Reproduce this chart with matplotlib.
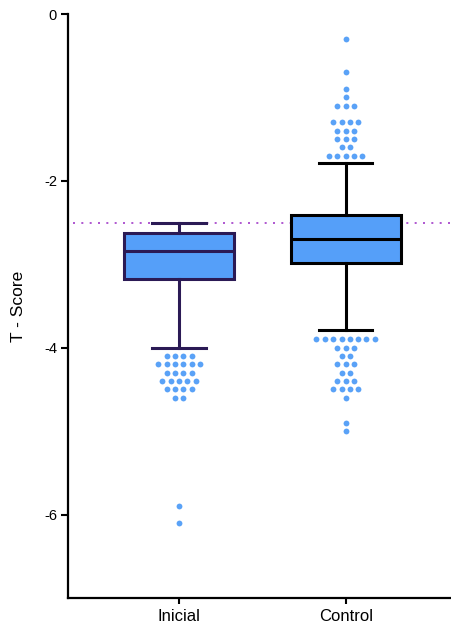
import matplotlib
matplotlib.use("Agg")
import matplotlib.pyplot as plt
from collections import Counter

categories = ["Inicial", "Control"]
whisker_low = [-4.0, -3.79]
q1 = [-3.18, -2.99]
median = [-2.84, -2.70]
q3 = [-2.62, -2.41]
whisker_high = [-2.50, -1.79]

outliers_inicial = ([-4.1] * 4 + [-4.2] * 6 + [-4.3] * 4 + [-4.4] * 5 +
                    [-4.5] * 4 + [-4.6] * 2 + [-5.9, -6.1])
outliers_control = ([-0.3, -0.7, -0.9, -1.0] + [-1.1] * 3 + [-1.3] * 4 +
                    [-1.4] * 3 + [-1.5] * 3 + [-1.6] * 2 + [-1.7] * 5 +
                    [-3.9] * 8 + [-4.0] * 3 + [-4.1] * 2 + [-4.2] * 3 +
                    [-4.3] * 2 + [-4.4] * 3 + [-4.5] * 4 + [-4.6] +
                    [-4.9, -5.0])
outliers = [outliers_inicial, outliers_control]
threshold = -2.5

edge_colors = ["#2b1a55", "#000000"]
fill = "#559ff9"
dot_color = "#5aa2f7"

plt.rcParams['font.family'] = ['Liberation Sans', 'DejaVu Sans']
fig = plt.figure(figsize=(4.51, 6.23), dpi=100)
ax = fig.add_axes([68/451, 1 - 598/623, 1 - 68/451, (598 - 14)/623])

positions = [1, 2]
ax.axhline(threshold, xmin=0.013, xmax=1, color="#a23bc8", lw=1.2,
           dashes=(1.2, 3.8), zorder=1)

for i, pos in enumerate(positions):
    st = dict(med=median[i], q1=q1[i], q3=q3[i], whislo=whisker_low[i],
              whishi=whisker_high[i], fliers=[], label=categories[i])
    ec = edge_colors[i]
    ax.bxp([st], positions=[pos], widths=0.66, patch_artist=True,
           showfliers=False,
           boxprops=dict(facecolor=fill, edgecolor=ec, linewidth=2.2),
           medianprops=dict(color=ec, linewidth=2.2),
           whiskerprops=dict(color=ec, linewidth=2.2),
           capprops=dict(color=ec, linewidth=2.2),
           capwidths=0.32, zorder=3)
    # swarm-like layout of outliers
    counts = Counter(outliers[i])
    xs, ys = [], []
    for v, n in counts.items():
        for k in range(n):
            xs.append(pos + (k - (n - 1) / 2) * 0.05)
            ys.append(v)
    ax.plot(xs, ys, 'o', color=dot_color, markersize=4.2, markeredgewidth=0,
            zorder=4)

ax.set_xlim(0.334, 2.632)
ax.set_ylim(-7, 0)
ax.set_yticks([0, -2, -4, -6])
ax.set_yticklabels(["0", "-2", "-4", "-6"])
ax.set_xticks(positions)
ax.set_xticklabels(categories)
ax.tick_params(axis='both', width=1.5, color='black')
ax.tick_params(axis='y', length=5, pad=3, labelsize=10.5)
ax.tick_params(axis='x', length=4, pad=4, labelsize=12)
for s in ['top', 'right']:
    ax.spines[s].set_visible(False)
for s in ['left', 'bottom']:
    ax.spines[s].set_linewidth(1.6)
ax.set_ylabel("T - Score", fontsize=12.5, labelpad=13)

fig.savefig("out.png", dpi=100)
